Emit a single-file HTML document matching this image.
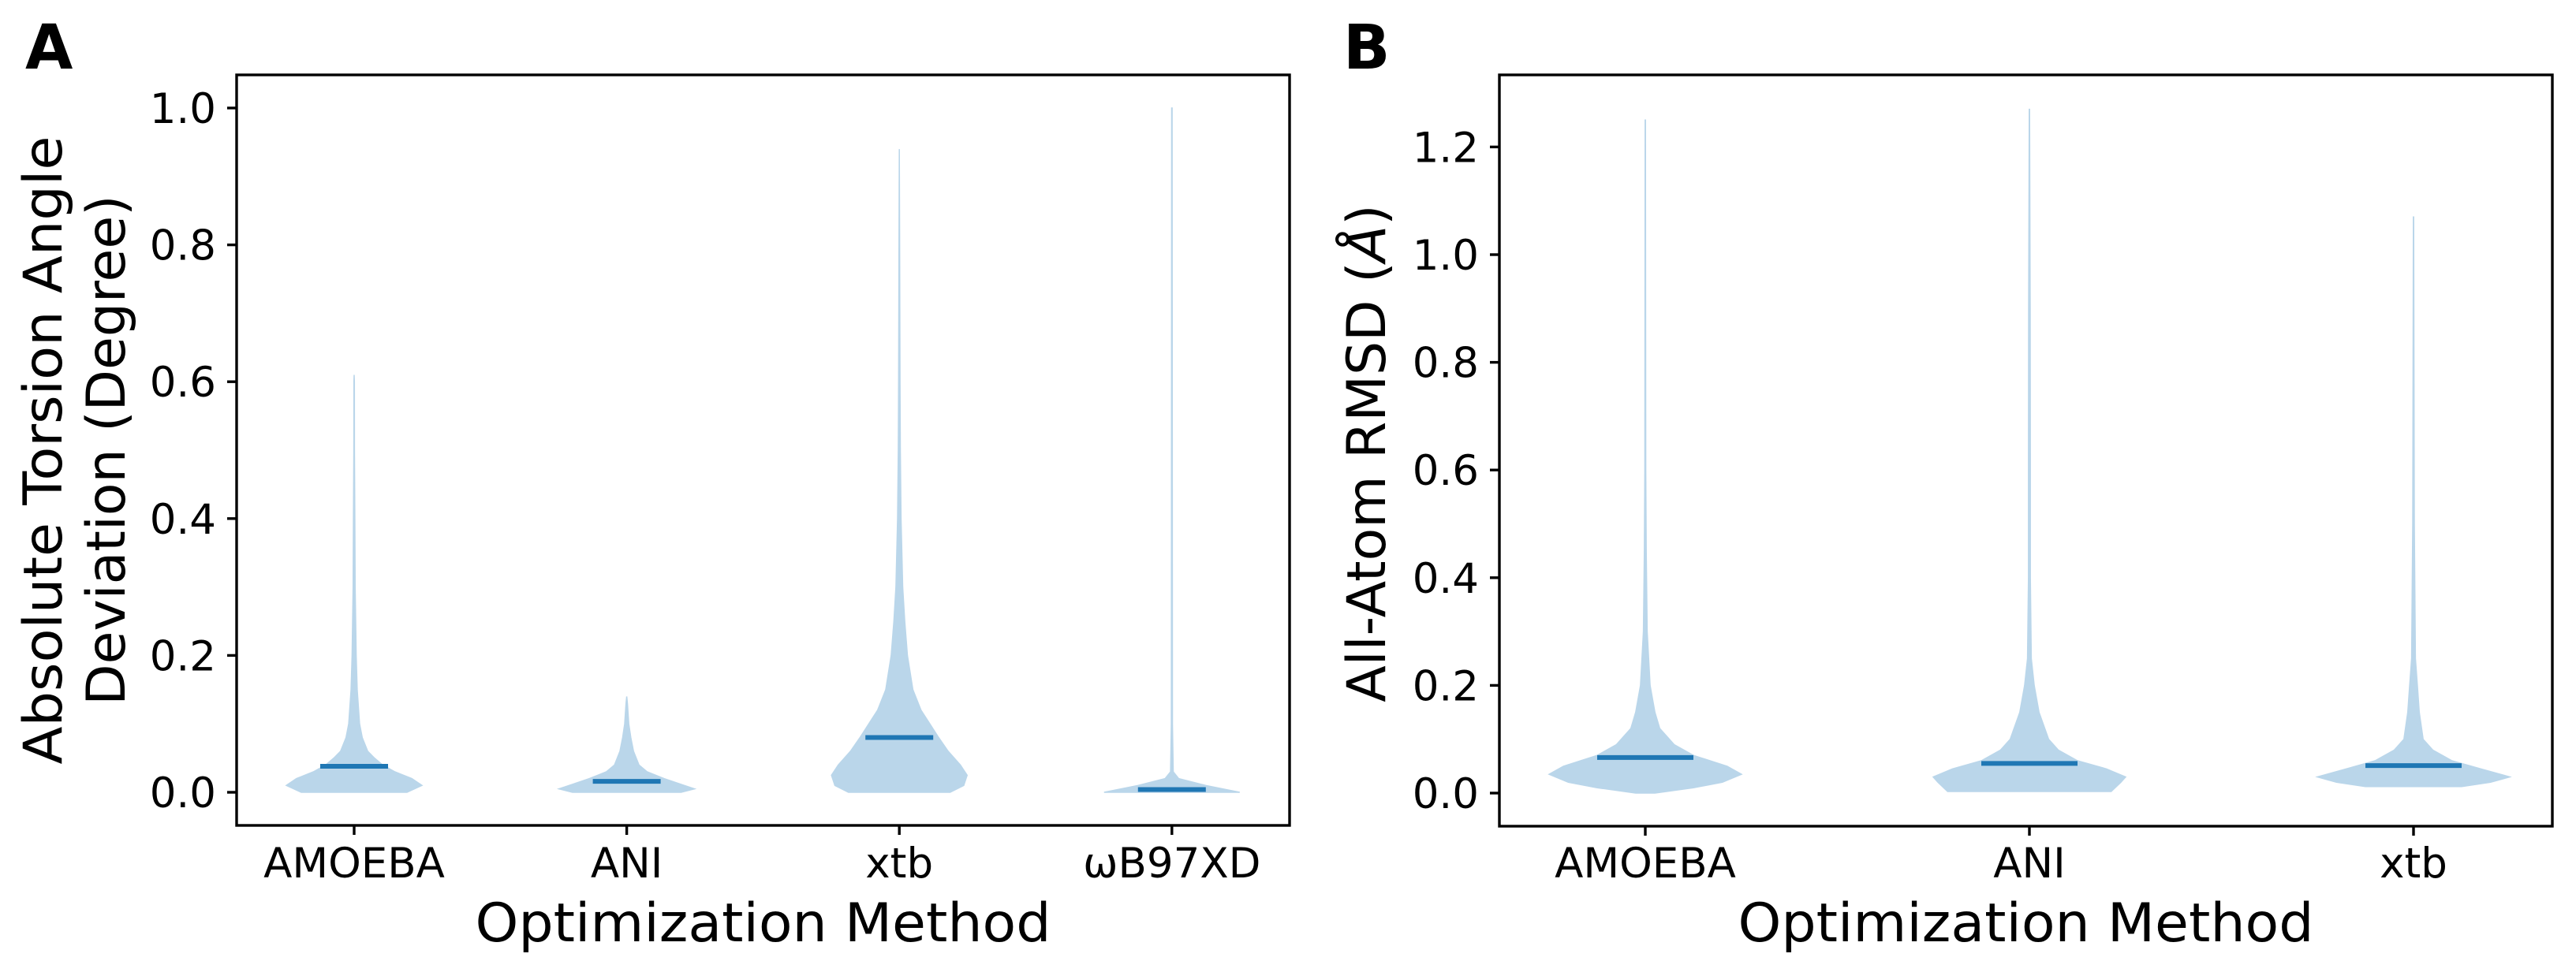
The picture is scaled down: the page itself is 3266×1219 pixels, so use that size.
<!DOCTYPE html>
<html><head><meta charset="utf-8"><style>
html,body{margin:0;padding:0;background:#fff;}
svg{display:block;font-family:"DejaVu Sans","Liberation Sans",sans-serif;}
</style></head><body>
<svg id="fig" width="3266" height="1219" viewBox="0 0 3266 1219" xmlns="http://www.w3.org/2000/svg">
<rect width="3266" height="1219" fill="#fff"/>
<text x="32" y="87" font-size="78" font-weight="bold">A</text>
<text x="1703" y="87" font-size="78" font-weight="bold">B</text>
<g id="panelA"></g>
<g id="panelB"></g>
</svg>
<script>
// ---- Panel A data ----
const catsA = ["AMOEBA", "ANI", "xtb", "ωB97XD"];
const ticksA = [0.0, 0.2, 0.4, 0.6, 0.8, 1.0];
const tickLabelsA = ["0.0", "0.2", "0.4", "0.6", "0.8", "1.0"];
const mediansA = [0.038, 0.016, 0.080, 0.004];
const amoebaA_y = [0, 0.01, 0.02, 0.03, 0.04, 0.05, 0.06, 0.08, 0.1, 0.15, 0.2, 0.3, 0.4, 0.5, 0.6, 0.61];
const amoebaA_w = [0.78, 1.0, 0.85, 0.6, 0.42, 0.3, 0.2, 0.12, 0.08, 0.045, 0.03, 0.015, 0.01, 0.005, 0.003, 0];
const aniA_y = [0, 0.005, 0.01, 0.02, 0.03, 0.04, 0.06, 0.08, 0.1, 0.13, 0.14];
const aniA_w = [0.8, 1.0, 0.85, 0.55, 0.3, 0.18, 0.1, 0.06, 0.03, 0.01, 0];
const xtbA_y = [0, 0.01, 0.025, 0.04, 0.06, 0.08, 0.1, 0.12, 0.15, 0.2, 0.25, 0.3, 0.4, 0.5, 0.6, 0.8, 0.94];
const xtbA_w = [0.75, 0.95, 1.0, 0.9, 0.72, 0.58, 0.45, 0.32, 0.2, 0.12, 0.08, 0.05, 0.025, 0.015, 0.01, 0.005, 0];
const wbA_y = [0, 0.01, 0.02, 0.03, 0.1, 1.0];
const wbA_w = [1.0, 0.5, 0.1, 0.02, 0.008, 0.003];
// ---- Panel B data ----
const catsB = ["AMOEBA", "ANI", "xtb"];
const ticksB = [0.0, 0.2, 0.4, 0.6, 0.8, 1.0, 1.2];
const tickLabelsB = ["0.0", "0.2", "0.4", "0.6", "0.8", "1.0", "1.2"];
const mediansB = [0.066, 0.055, 0.051];
const amoebaB_y = [0, 0.01, 0.02, 0.035, 0.05, 0.07, 0.09, 0.12, 0.15, 0.2, 0.3, 0.45, 0.6, 1.25];
const amoebaB_w = [0.1, 0.5, 0.8, 1.0, 0.85, 0.5, 0.3, 0.15, 0.1, 0.05, 0.02, 0.01, 0.005, 0.002];
const aniB_y = [0.003, 0.02, 0.03, 0.045, 0.06, 0.08, 0.1, 0.15, 0.2, 0.25, 0.4, 0.6, 0.9, 1.27];
const aniB_w = [0.85, 0.95, 1.0, 0.8, 0.5, 0.3, 0.2, 0.1, 0.05, 0.02, 0.01, 0.01, 0.008, 0.002];
const xtbB_y = [0.012, 0.02, 0.03, 0.045, 0.06, 0.08, 0.1, 0.15, 0.2, 0.25, 0.5, 1.07];
const xtbB_w = [0.5, 0.8, 1.0, 0.7, 0.4, 0.2, 0.1, 0.06, 0.04, 0.02, 0.008, 0.002];

const NS = "http://www.w3.org/2000/svg";
function mk(parent, tag, attrs, text) {
  const e = document.createElementNS(NS, tag);
  for (const k in attrs) e.setAttribute(k, attrs[k]);
  if (text !== undefined) e.textContent = text;
  parent.appendChild(e);
  return e;
}

function drawPanel(g, cfg) {
  const yScale = v => cfg.y0 - v * cfg.ppu;
  const xScale = i => cfg.x0 + i * cfg.dx;
  // violins
  cfg.violins.forEach((vd, i) => {
    const cx = xScale(i);
    let pts = [];
    for (let k = 0; k < vd.y.length; k++) pts.push((cx + vd.w[k] * cfg.half).toFixed(1) + "," + yScale(vd.y[k]).toFixed(1));
    for (let k = vd.y.length - 1; k >= 0; k--) pts.push((cx - vd.w[k] * cfg.half).toFixed(1) + "," + yScale(vd.y[k]).toFixed(1));
    const p = mk(g, "polygon", {points: pts.join(" "), fill: "#bad6ea", stroke: "#bad6ea", "stroke-width": "1.5"});
    
    
    const m = mk(g, "line", {x1: cx - cfg.half / 2, x2: cx + cfg.half / 2, y1: yScale(cfg.medians[i]), y2: yScale(cfg.medians[i]), stroke: "#1f77b4", "stroke-width": "6"});
    
    
  });
  // frame
  const f = mk(g, "rect", {x: cfg.L, y: cfg.T, width: cfg.R - cfg.L, height: cfg.B - cfg.T, fill: "none", stroke: "#000", "stroke-width": "3.4"});
  
  
  // y ticks
  cfg.ticks.forEach((t, k) => {
    const y = yScale(t);
    const tl = mk(g, "line", {x1: cfg.L - 12, x2: cfg.L, y1: y, y2: y, stroke: "#000", "stroke-width": "3.4"});
    
    
    const tx = mk(g, "text", {x: cfg.L - 26, y: y + 19, "font-size": "53", "text-anchor": "end"}, cfg.tickLabels[k]);
    
    
  });
  // x ticks
  cfg.cats.forEach((c, i) => {
    const x = xScale(i);
    const tl = mk(g, "line", {x1: x, x2: x, y1: cfg.B, y2: cfg.B + 12, stroke: "#000", "stroke-width": "3.4"});
    
    
    const tx = mk(g, "text", {x: x, y: 1113, "font-size": "53", "text-anchor": "middle"}, c);
    
    
  });
  const xl = mk(g, "text", {x: (cfg.L + cfg.R) / 2, y: 1194, "font-size": "68", "text-anchor": "middle", textLength: "730", lengthAdjust: "spacingAndGlyphs"}, "Optimization Method");
  
  
}

const gA = document.getElementById("panelA");
drawPanel(gA, {L: 300, R: 1635, T: 95, B: 1047, y0: 1005, ppu: 868, x0: 449, dx: 345.6, half: 86,
  cats: catsA, ticks: ticksA, tickLabels: tickLabelsA, medians: mediansA,
  violins: [{y: amoebaA_y, w: amoebaA_w}, {y: aniA_y, w: aniA_w}, {y: xtbA_y, w: xtbA_w}, {y: wbA_y, w: wbA_w}]});
const yla = mk(gA, "text", {transform: "translate(78,571) rotate(-90)", "font-size": "68", "text-anchor": "middle", textLength: "797", lengthAdjust: "spacingAndGlyphs"}, "Absolute Torsion Angle");


const ylb = mk(gA, "text", {transform: "translate(158,571) rotate(-90)", "font-size": "68", "text-anchor": "middle"}, "Deviation (Degree)");



const gB = document.getElementById("panelB");
drawPanel(gB, {L: 1901, R: 3236, T: 95, B: 1048, y0: 1006, ppu: 683, x0: 2086, dx: 487, half: 122,
  cats: catsB, ticks: ticksB, tickLabels: tickLabelsB, medians: mediansB,
  violins: [{y: amoebaB_y, w: amoebaB_w}, {y: aniB_y, w: aniB_w}, {y: xtbB_y, w: xtbB_w}]});
const ylB = mk(gB, "text", {transform: "translate(1756,575) rotate(-90)", "font-size": "68", "text-anchor": "middle"}, "All-Atom RMSD (");


const ts = mk(ylB, "tspan", {"font-style": "italic"}, "Å");
mk(ylB, "tspan", {}, ")");
</script>
</body></html>
